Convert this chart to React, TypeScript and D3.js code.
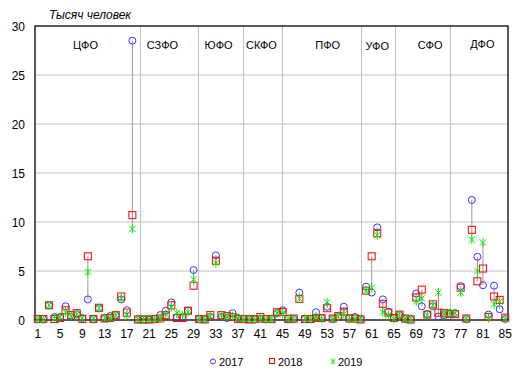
import React from "react";
import * as d3 from "d3";

const categories: number[] = d3.range(1, 86);
const years = ["2017", "2018", "2019"];

const values2017: number[] = [
  0.1, 0.1, 1.5, 0.3, 0.3, 1.4, 0.3, 0.6, 0.2, 2.1,
  0.1, 1.2, 0.2, 0.4, 0.5, 2.1, 1.0, 28.5, 0.1, 0.05,
  0.05, 0.1, 0.5, 0.95, 1.8, 0.3, 0.3, 0.95, 5.1, 0.1,
  0.1, 0.3, 6.6, 0.3, 0.2, 0.7, 0.2, 0.1, 0.1, 0.05,
  0.1, 0.1, 0.1, 0.7, 1.0, 0.15, 0.1, 2.8, 0.1, 0.1,
  0.8, 0.2, 1.35, 0.1, 0.3, 1.35, 0.2, 0.3, 0.1, 3.4,
  2.8, 9.45, 2.1, 0.85, 0.2, 0.5, 0.1, 0.1, 2.7, 1.4,
  0.6, 1.4, 0.35, 0.5, 0.7, 0.7, 3.45, 0.1, 12.25, 6.45,
  3.55, 0.55, 3.5, 1.1, 0.1,
];
const values2018: number[] = [
  0.1, 0.1, 1.5, 0.1, 0.2, 1.0, 0.5, 0.7, 0.1, 6.5,
  0.1, 1.25, 0.15, 0.2, 0.5, 2.4, 0.75, 10.7, 0.05, 0.05,
  0.05, 0.1, 0.15, 0.5, 1.5, 0.2, 0.2, 0.95, 3.5, 0.1,
  0.05, 0.5, 6.05, 0.5, 0.4, 0.3, 0.1, 0.1, 0.05, 0.1,
  0.3, 0.1, 0.1, 0.8, 0.8, 0.1, 0.15, 2.15, 0.1, 0.1,
  0.2, 0.2, 1.2, 0.15, 0.4, 0.85, 0.15, 0.15, 0.05, 3.0,
  6.5, 8.85, 1.65, 0.75, 0.2, 0.55, 0.15, 0.05, 2.3, 3.1,
  0.55, 1.6, 0.75, 0.7, 0.6, 0.6, 3.3, 0.15, 9.2, 3.95,
  5.25, 0.3, 2.4, 2.05, 0.25,
];
const values2019: number[] = [
  0.1, 0.05, 1.5, 0.15, 0.3, 0.8, 0.4, 0.6, 0.2, 4.9,
  0.1, 1.2, 0.2, 0.2, 0.5, 2.2, 0.5, 9.3, 0.1, 0.05,
  0.1, 0.1, 0.2, 0.6, 1.3, 0.7, 0.5, 0.8, 4.15, 0.1,
  0.1, 0.4, 5.8, 0.5, 0.3, 0.4, 0.2, 0.1, 0.1, 0.05,
  0.2, 0.05, 0.1, 0.7, 0.7, 0.1, 0.1, 2.2, 0.15, 0.1,
  0.3, 0.1, 1.8, 0.1, 0.4, 0.6, 0.1, 0.1, 0.1, 3.0,
  3.3, 8.65, 0.8, 0.5, 0.1, 0.5, 0.1, 0.1, 1.9, 2.2,
  0.5, 1.5, 2.8, 0.6, 0.7, 0.7, 2.8, 0.1, 8.2, 5.0,
  7.9, 0.2, 1.6, 1.9, 0.1,
];

const yTicks: number[] = [0, 5, 10, 15, 20, 25, 30];
const xTicks: number[] = d3.range(1, 86, 4);

// federal districts: name, label anchor (category units), separator after (category units)
const regionNames = ["ЦФО", "СЗФО", "ЮФО", "СКФО", "ПФО", "УФО", "СФО", "ДФО"];
const regionLabelAt = [9.57, 23.4, 33.5, 41.2, 53.1, 62.0, 71.5, 80.9];
const regionSeparators = [19.42, 29.79, 37.88, 44.88, 59.17, 65.19, 75.02];

const W = 521, H = 377;
const L = 35, R = 508, T = 26, B = 320;
const FONT = "'Liberation Sans', Arial, sans-serif";
const BLUE = "#3333ff", RED = "#ff0000", GREEN = "#00ee00";

function Star({ cx, cy, s, color }: { cx: number; cy: number; s: number; color: string }) {
  const d = s * 0.72;
  return (
    <g stroke={color} strokeWidth={1} fill="none">
      <line x1={cx} y1={cy - s} x2={cx} y2={cy + s} />
      <line x1={cx - d} y1={cy - d} x2={cx + d} y2={cy + d} />
      <line x1={cx - d} y1={cy + d} x2={cx + d} y2={cy - d} />
    </g>
  );
}

export default function App() {
  const x = d3.scaleLinear().domain([0.5, 85.5]).range([L, R]);
  const y = d3.scaleLinear().domain([0, 30]).range([B, T]);
  const series = [values2017, values2018, values2019];

  return (
    <svg width={W} height={H} style={{ position: "absolute", left: 0, top: 0, background: "#fff" }}
      fontFamily={FONT}>
      {/* horizontal gridlines */}
      {yTicks.filter((t) => t > 0 && t < 30).map((t) => (
        <line key={"g" + t} x1={L} x2={R} y1={y(t)} y2={y(t)} stroke="#c0c0c0" strokeWidth={1} />
      ))}
      {/* region separators */}
      {regionSeparators.map((s, i) => (
        <line key={"s" + i} x1={Math.round(x(s)) + 0.5} x2={Math.round(x(s)) + 0.5} y1={T} y2={B} stroke="#c0c0c0" strokeWidth={1} />
      ))}
      {/* region labels */}
      {regionNames.map((n, i) => (
        <text key={"r" + n} x={x(regionLabelAt[i])} y={i === 5 ? 50 : i === 7 ? 48 : 49}
          fontSize={11} textAnchor="middle" fill="#000">{n}</text>
      ))}
      {/* high-low lines */}
      {categories.map((c, i) => {
        const vals = series.map((s) => s[i]);
        const lo = d3.min(vals)!, hi = d3.max(vals)!;
        return (
          <line key={"hl" + c} x1={x(c)} x2={x(c)} y1={y(lo)} y2={y(hi)} stroke="#999" strokeWidth={1} />
        );
      })}
      {/* axes frame */}
      <rect x={L} y={T} width={R - L} height={B - T} fill="none" stroke="#000" strokeWidth={1.3} />
      {/* markers 2017 */}
      {categories.map((c, i) => (
        <circle key={"a" + c} cx={x(c)} cy={y(values2017[i])} r={3.5} fill="none" stroke={BLUE} strokeWidth={1} />
      ))}
      {/* markers 2018 */}
      {categories.map((c, i) => (
        <rect key={"b" + c} x={x(c) - 3.5} y={y(values2018[i]) - 3.5} width={7} height={7} fill="none" stroke={RED} strokeWidth={1} />
      ))}
      {/* markers 2019 */}
      {categories.map((c, i) => (
        <Star key={"c" + c} cx={x(c)} cy={y(values2019[i])} s={4.5} color={GREEN} />
      ))}
      {/* y tick labels */}
      {yTicks.map((t) => (
        <text key={"yt" + t} x={25} y={y(t) + 4.5} fontSize={12} textAnchor="end" fill="#000">{t}</text>
      ))}
      {/* x tick labels */}
      {xTicks.map((t) => (
        <text key={"xt" + t} x={x(t)} y={338} fontSize={12} textAnchor="middle" fill="#000">{t}</text>
      ))}
      {/* axis title */}
      <text x={49} y={19} fontSize={12} fontStyle="italic" fill="#000">Тысяч человек</text>
      {/* legend */}
      <circle cx={213} cy={361.5} r={2.5} fill="none" stroke={BLUE} strokeWidth={1} />
      <text x={219} y={365.5} fontSize={11} fill="#000">{years[0]}</text>
      <rect x={269.5} y={358.5} width={5} height={5} fill="none" stroke={RED} strokeWidth={1} />
      <text x={278} y={365.5} fontSize={11} fill="#000">{years[1]}</text>
      <Star cx={333} cy={361.5} s={3} color={GREEN} />
      <text x={338} y={365.5} fontSize={11} fill="#000">{years[2]}</text>
    </svg>
  );
}
